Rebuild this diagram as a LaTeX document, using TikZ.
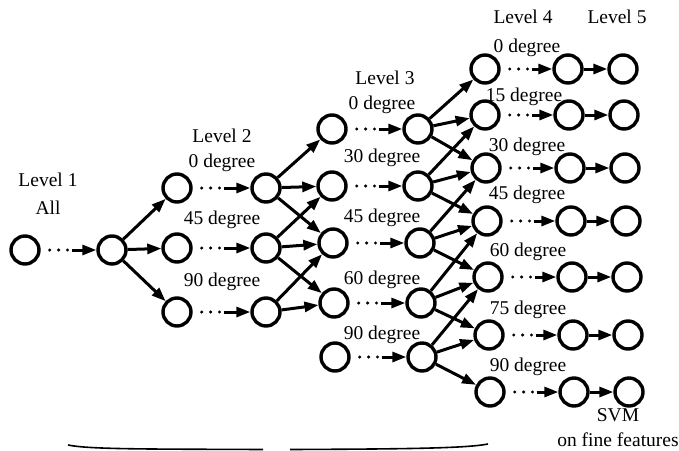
\documentclass[tikz,border=0pt]{standalone}
\usepackage{fontspec}
\setmainfont{Liberation Serif}
\usetikzlibrary{arrows.meta,calc}
\begin{document}
\begin{tikzpicture}[x=1pt,y=-1pt,
  cnode/.style={circle,draw,line width=3.4pt,minimum size=28pt,inner sep=0pt},
  lbl/.style={inner sep=0pt,font=\fontsize{19.5}{22}\selectfont},
  arr/.style={line width=3pt,-{Triangle[length=14pt,width=10pt]}},
  dotline/.style={line width=3.4pt,line cap=round,dash pattern=on 0pt off 8.9pt}]
\useasboundingbox (0,0) rectangle (679,450);
\newcommand{\dotarr}[2]{%
  \draw[dotline] ([xshift=9]#1.east) -- ([xshift=27]#1.east);
  \draw[arr] ([xshift=31]#1.east) -- (#2.west);}
% nodes
\node[cnode] (A) at (25,250) {};
\node[cnode] (B) at (112,250) {};
\node[cnode] (p1) at (177,188) {};
\node[cnode] (p2) at (177,248) {};
\node[cnode] (p3) at (177,312) {};
\node[cnode] (q1) at (266,188) {};
\node[cnode] (q2) at (266,248) {};
\node[cnode] (q3) at (266,312) {};
\node[cnode] (r1) at (332,129) {};
\node[cnode] (r2) at (332,186) {};
\node[cnode] (r3) at (333,243) {};
\node[cnode] (r4) at (334,303) {};
\node[cnode] (r5) at (335,357) {};
\node[cnode] (s1) at (418,129) {};
\node[cnode] (s2) at (418,186) {};
\node[cnode] (s3) at (420,243) {};
\node[cnode] (s4) at (421,303) {};
\node[cnode] (s5) at (422,357) {};
\foreach \i/\x/\y in {1/485/69,2/485/115,3/486/168,4/487/221,5/488/277,6/489/335,7/490/392}
  \node[cnode] (t\i) at (\x,\y) {};
\foreach \i/\x/\y in {1/568/69,2/569/115,3/570/168,4/571/221,5/572/277,6/573/335,7/574/392}
  \node[cnode] (u\i) at (\x,\y) {};
\foreach \i/\x/\y in {1/623/69,2/624/115,3/625/168,4/626/221,5/627/277,6/628/335,7/629/392}
  \node[cnode] (v\i) at (\x,\y) {};
% labels
\node[lbl] (l1) at (48,180) {Level 1};
\node[lbl] (l1b) at (48,208) {All};
\node[lbl] (l2) at (222,136) {Level 2};
\node[lbl] (d20) at (222,163) {0 degree};
\node[lbl] (d245) at (222,220) {45 degree};
\node[lbl] (d290) at (222,282) {90 degree};
\node[lbl] (l3) at (385,78) {Level 3};
\node[lbl] (d30) at (382,105) {0 degree};
\node[lbl] (d330) at (382,158) {30 degree};
\node[lbl] (d345) at (382,218) {45 degree};
\node[lbl] (d360) at (382,280) {60 degree};
\node[lbl] (d390) at (382,335) {90 degree};
\node[lbl] (l4) at (523,17) {Level 4};
\node[lbl] (l5) at (617,17) {Level 5};
\node[lbl] (d40) at (527,48) {0 degree};
\node[lbl] (d415) at (524,97) {15 degree};
\node[lbl] (d430) at (527,147) {30 degree};
\node[lbl] (d445) at (527,195) {45 degree};
\node[lbl] (d460) at (528,252) {60 degree};
\node[lbl] (d475) at (528,310) {75 degree};
\node[lbl] (d490) at (528,367) {90 degree};
\node[lbl] (svm) at (618,415) {SVM};
\node[lbl] (fine) at (618,440) {on fine features};
% dotted connectors
\dotarr{A}{B}
\dotarr{p1}{q1}\dotarr{p2}{q2}\dotarr{p3}{q3}
\dotarr{r1}{s1}\dotarr{r2}{s2}\dotarr{r3}{s3}\dotarr{r4}{s4}\dotarr{r5}{s5}
\foreach \i in {1,...,7}{\dotarr{t\i}{u\i}}
% solid connectors
\draw[arr] (B) -- (p1);
\draw[arr] (B) -- (p2);
\draw[arr] (B) -- (p3);
\draw[arr] (q1) -- (r1);
\draw[arr] (q1) -- (r2);
\draw[arr] (q1) -- (r3);
\draw[arr] (q2) -- (r2);
\draw[arr] (q2) -- (r3);
\draw[arr] (q2) -- (r4);
\draw[arr] (q3) -- (r3);
\draw[arr] (q3) -- (r4);
\draw[arr] (s1) -- (t1);
\draw[arr] (s1) -- (t2);
\draw[arr] (s1) -- (t3);
\draw[arr] (s2) -- (t2);
\draw[arr] (s2) -- (t3);
\draw[arr] (s2) -- (t4);
\draw[arr] (s3) -- (t3);
\draw[arr] (s3) -- (t4);
\draw[arr] (s3) -- (t5);
\draw[arr] (s4) -- (t4);
\draw[arr] (s4) -- (t5);
\draw[arr] (s4) -- (t6);
\draw[arr] (s5) -- (t5);
\draw[arr] (s5) -- (t6);
\draw[arr] (s5) -- (t7);
\foreach \i in {1,...,7}{\draw[arr] (u\i) -- (v\i);}
% brace
\draw[line width=1.6pt] (68,445) .. controls (90,449.5) and (150,449) .. (263,449.5);
\draw[line width=1.6pt] (290,449.5) .. controls (400,449) and (465,448.5) .. (488,444);
\end{tikzpicture}
\end{document}
